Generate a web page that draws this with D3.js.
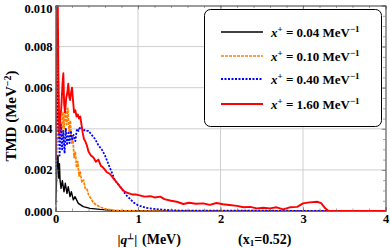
<!DOCTYPE html>
<html><head><meta charset="utf-8">
<script src="https://cdn.jsdelivr.net/npm/d3@7"></script>
<style>body{margin:0;background:#fff}svg{display:block}text{font-family:"Liberation Serif","Times New Roman",serif;font-weight:bold}</style>
</head><body><svg id="c" width="390" height="248"></svg>
<script>
const xTicks = [0,1,2,3,4];
const yTicks = [0,0.002,0.004,0.006,0.008,0.010];
const seriesNames = ["0.04","0.10","0.40","1.60"];
const seriesColors = ["#000000","#ff8000","#0000ff","#ff0000"];

const qBlack = [0,0.01,0.02,0.03,0.04,0.048,0.055,0.067,0.083,0.103,0.119,0.139,0.155,0.176,0.192,0.216,0.236,0.277,0.337,0.418,0.54,0.7,0.9,1.2,4];
const vBlack = [0.0003,0.0012,0.0024,0.0027,0.0016,0.0023,0.0015,0.0011,0.00148,0.00094,0.00135,0.00086,0.00118,0.0007,0.00094,0.00054,0.0007,0.00037,0.00021,0.00013,0.00008,0.00003,0.00001,0,0];

const qOrange = [0,0.015,0.03,0.045,0.06,0.075,0.09,0.105,0.12,0.135,0.15,0.165,0.18,0.195,0.21,0.225,0.24,0.255,0.27,0.285,0.3,0.32,0.34,0.36,0.38,0.4,0.43,0.46,0.5,0.55,0.6,0.7,0.8,1.0,4];
const vOrange = [0.0015,0.004,0.0062,0.0035,0.0045,0.0035,0.0048,0.004,0.0051,0.0042,0.005,0.0038,0.0044,0.0033,0.0036,0.0026,0.0029,0.0021,0.0024,0.0017,0.0019,0.0014,0.0015,0.0011,0.0011,0.0008,0.0006,0.0004,0.00028,0.00018,0.0001,0.00004,0.00001,0,0];

const qBlue = [0,0.01,0.02,0.03,0.04,0.05,0.065,0.08,0.095,0.11,0.125,0.14,0.155,0.17,0.185,0.2,0.22,0.24,0.26,0.28,0.3,0.33,0.36,0.4,0.44,0.48,0.52,0.56,0.6,0.64,0.68,0.72,0.76,0.8,0.85,0.9,0.95,1.0,1.1,1.2,1.35,1.5,4];
const vBlue = [0.0018,0.0026,0.0055,0.0073,0.004,0.0027,0.0042,0.003,0.0039,0.0028,0.004,0.0032,0.0038,0.0033,0.0039,0.0035,0.0037,0.0034,0.004,0.0039,0.0041,0.004,0.0039,0.0039,0.0037,0.0035,0.0032,0.003,0.0027,0.0023,0.0019,0.0015,0.0013,0.0011,0.0008,0.0006,0.0004,0.00028,0.00015,0.0001,0.00005,0.00002,0];

const qRed = [0,0.008,0.015,0.025,0.035,0.045,0.055,0.07,0.085,0.095,0.105,0.115,0.13,0.145,0.155,0.165,0.176,0.19,0.2,0.21,0.225,0.24,0.255,0.27,0.285,0.3,0.315,0.33,0.345,0.36,0.38,0.4,0.43,0.46,0.49,0.52,0.55,0.58,0.62,0.66,0.7,0.74,0.78,0.82,0.86,0.9,0.94,0.98,1.02,1.08,1.15,1.2,1.27,1.32,1.4,1.47,1.55,1.62,1.7,1.79,1.87,1.95,2.03,2.11,2.2,2.28,2.36,2.44,2.52,2.6,2.68,2.76,2.84,2.93,3.0,3.08,3.17,3.22,3.27,3.31,3.35,4];
const vRed = [0.0025,0.006,0.0115,0.0115,0.0065,0.0038,0.0044,0.005,0.0062,0.0067,0.0052,0.0048,0.0055,0.0058,0.0062,0.0056,0.0054,0.0058,0.006,0.0055,0.0048,0.0049,0.0046,0.0047,0.0045,0.0046,0.0042,0.0038,0.0035,0.0034,0.0032,0.0029,0.0027,0.0026,0.0024,0.0025,0.0022,0.0021,0.0019,0.0018,0.0016,0.0014,0.0012,0.001,0.0009,0.00085,0.0008,0.0008,0.00076,0.0007,0.00072,0.00066,0.0007,0.00058,0.0005,0.00045,0.00034,0.0004,0.00035,0.00037,0.0003,0.00039,0.00033,0.00029,0.00025,0.00018,0.0002,0.00013,0.00016,0.00013,0.00018,0.00008,0.00018,0.0002,0.00037,0.00042,0.00045,0.00038,0.00013,0,0,0];

const series = [
  {q:qBlack, v:vBlack, dash:null, w:1.4},
  {q:qOrange, v:vOrange, dash:"3,1", w:1.7},
  {q:qBlue, v:vBlue, dash:"2,1.5", w:1.8},
  {q:qRed, v:vRed, dash:null, w:1.9}
];

const L=55.5, R=385.5, T=5.5, B=211;
const svg = d3.select("#c");
const x = d3.scaleLinear().domain([0,4]).range([L,R]);
const y = d3.scaleLinear().domain([0,0.010]).range([B,T]);

// grid
svg.append("g").selectAll("line").data(xTicks.slice(1,-1)).join("line")
  .attr("x1",d=>x(d)).attr("x2",d=>x(d)).attr("y1",T).attr("y2",B)
  .attr("stroke","#cfcfcf").attr("stroke-width",1);
svg.append("g").selectAll("line").data(yTicks.slice(1,-1)).join("line")
  .attr("y1",d=>y(d)).attr("y2",d=>y(d)).attr("x1",L).attr("x2",R)
  .attr("stroke","#cfcfcf").attr("stroke-width",1);

// curves
svg.append("clipPath").attr("id","cp").append("rect").attr("x",L).attr("y",T).attr("width",R-L).attr("height",B-T);
const line = d3.line().x(d=>x(d[0])).y(d=>y(d[1]));
const gc = svg.append("g").attr("clip-path","url(#cp)");
series.forEach((s,i)=>{
  gc.append("path").attr("d",line(s.q.map((q,j)=>[q,s.v[j]])))
    .attr("fill","none").attr("stroke",seriesColors[i]).attr("stroke-width",s.w)
    .attr("stroke-dasharray",s.dash).attr("stroke-linejoin","round");
});

// frame axes
const fc="#666";
const axB = d3.axisBottom(x).tickValues(xTicks).tickSize(-4).tickPadding(3).tickFormat(d3.format("d"));
const axT = d3.axisTop(x).tickValues(xTicks).tickSize(-4).tickFormat("");
const axL = d3.axisLeft(y).tickValues(yTicks).tickSize(-4).tickPadding(3).tickFormat(d3.format(".3f"));
const axR = d3.axisRight(y).tickValues(yTicks).tickSize(-4).tickFormat("");
const minX = d3.range(0,4.001,0.2), minY = d3.range(0,0.01001,0.0005);
svg.append("g").attr("transform",`translate(0,${B})`).call(axB);
svg.append("g").attr("transform",`translate(0,${T})`).call(axT);
const gL = svg.append("g").attr("transform",`translate(${L},0)`).call(axL);
svg.append("g").attr("transform",`translate(${R},0)`).call(axR);
svg.append("g").attr("transform",`translate(0,${B})`).call(d3.axisBottom(x).tickValues(minX).tickSize(-2.5).tickFormat(""));
svg.append("g").attr("transform",`translate(0,${T})`).call(d3.axisTop(x).tickValues(minX).tickSize(-2.5).tickFormat(""));
svg.append("g").attr("transform",`translate(${L},0)`).call(d3.axisLeft(y).tickValues(minY).tickSize(-2.5).tickFormat(""));
svg.append("g").attr("transform",`translate(${R},0)`).call(d3.axisRight(y).tickValues(minY).tickSize(-2.5).tickFormat(""));
svg.selectAll(".domain").attr("stroke",fc).attr("stroke-width",0.8);
svg.selectAll(".tick line").attr("stroke",fc).attr("stroke-width",0.6);
svg.selectAll(".tick text").attr("font-family","Liberation Serif").attr("font-weight","bold").attr("font-size",12.5).attr("fill","#000");
gL.selectAll(".tick text").filter(d=>d===0.010).attr("dy","0.55em");

// axis titles
svg.append("text").attr("transform","translate(16,116) rotate(-90)").attr("text-anchor","middle")
  .attr("font-size",15).html('TMD (MeV<tspan dy="-5" font-size="10">−2</tspan><tspan dy="5">)</tspan>');
svg.append("text").attr("x",117.5).attr("y",244).attr("font-size",13.5)
  .html('|<tspan font-style="italic">q</tspan><tspan dy="-5" font-size="8">⊥</tspan><tspan dy="5">|</tspan>');
svg.append("text").attr("x",142).attr("y",244).attr("font-size",14).text("(MeV)");
svg.append("text").attr("x",238).attr("y",244).attr("font-size",14)
  .html('(x<tspan dy="2" font-size="9">1</tspan><tspan dy="-2">=0.52)</tspan>');

// legend
const lg = svg.append("g");
lg.append("rect").attr("x",204.5).attr("y",9.5).attr("width",177).attr("height",117).attr("rx",6)
  .attr("fill","#fff").attr("stroke","#000").attr("stroke-width",1);
const ly = [32,56,79,104];
series.forEach((s,i)=>{
  lg.append("line").attr("x1",221).attr("x2",263).attr("y1",ly[i]).attr("y2",ly[i])
    .attr("stroke",seriesColors[i]).attr("stroke-width",s.w).attr("stroke-dasharray",s.dash);
  lg.append("text").attr("x",271).attr("y",ly[i]+4.5).attr("font-size",13)
    .html(`<tspan font-style="italic">x</tspan><tspan dy="-5" font-size="9">+</tspan><tspan dy="5"> = ${seriesNames[i]} MeV</tspan><tspan dy="-5" font-size="9">−1</tspan>`);
});
</script></body></html>
